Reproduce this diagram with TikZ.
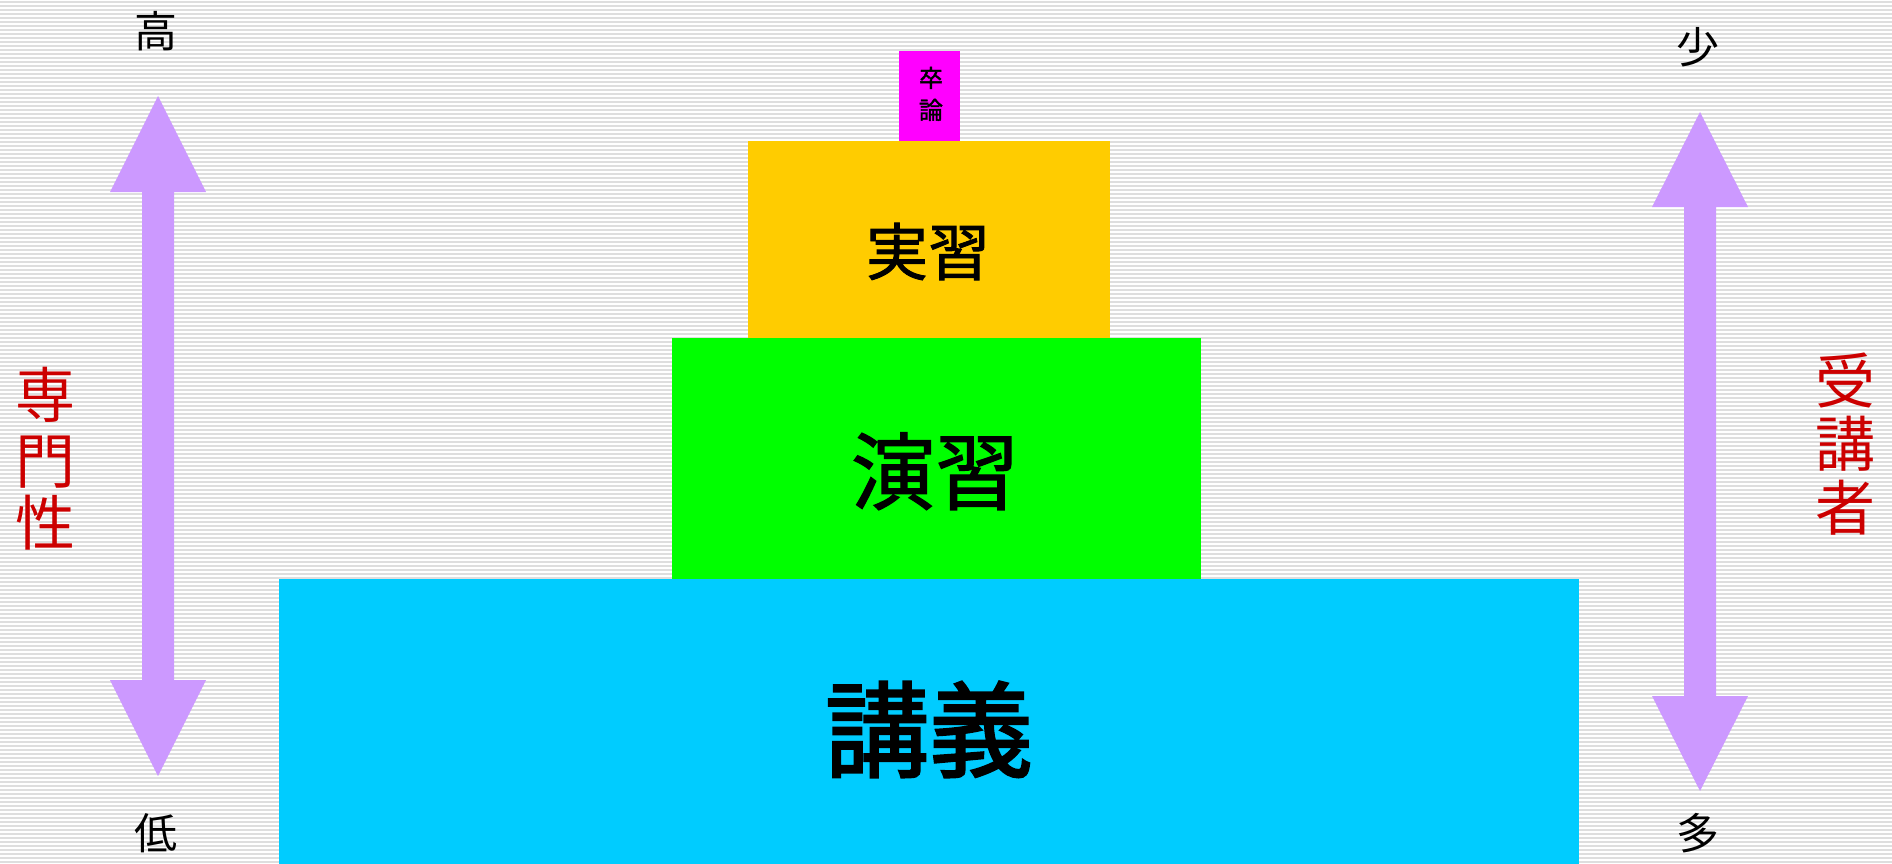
\documentclass[tikz,border=0pt]{standalone}
\usepackage{fontspec}
\newfontfamily\jp[FakeBold=1.5]{Noto Sans CJK JP}
\newfontfamily\jpr{Noto Sans CJK JP}
\newfontfamily\jpb[FakeBold=2.3]{Noto Sans CJK JP}
\definecolor{bgline}{HTML}{DEDEDE}
\definecolor{arrowc}{HTML}{CC99FF}
\definecolor{lecture}{HTML}{00CCFF}
\definecolor{exercise}{HTML}{00FF00}
\definecolor{practice}{HTML}{FFCC00}
\definecolor{thesis}{HTML}{FF00FF}
\definecolor{redtxt}{HTML}{CC0000}
\begin{document}
\begin{tikzpicture}[x=1pt,y=-1pt,
  lbl/.style={inner sep=0pt,anchor=base,font=\jp},
  sidelbl/.style={inner sep=0pt,anchor=base,text=redtxt,font=\jpr\fontsize{60}{60}\selectfont},
  endlbl/.style={inner sep=0pt,anchor=base,font=\jpr\fontsize{43}{43}\selectfont},
  bigarrow/.style={fill=arrowc,draw=none}]
\useasboundingbox (0,0) rectangle (1892,864);
\fill[white] (0,0) rectangle (1892,864);
\foreach \y in {2,6,...,864} \draw[bgline,line width=1.5pt] (0,\y) -- (1892,\y);
% blocks
\fill[lecture] (279,579) rectangle (1579,864);
\fill[exercise] (672,338) rectangle (1201,579);
\fill[practice] (748,141) rectangle (1110,338);
\fill[thesis] (899,51) rectangle (960,141);
\node[lbl,font=\jpb\fontsize{104}{104}\selectfont] (tlec) at (929,769) {講義};
\node[lbl,font=\jp\fontsize{84}{84}\selectfont] (tex) at (935,503) {演習};
\node[lbl,font=\jp\fontsize{62}{62}\selectfont] (tpr) at (928,275) {実習};
\node[lbl,font=\jp\fontsize{24}{24}\selectfont] (t1) at (931,87) {卒};
\node[lbl,font=\jp\fontsize{24}{24}\selectfont] (t2) at (931,119) {論};
% left arrow
\fill[bigarrow] (158,96) -- (206,192) -- (174,192) -- (174,680) -- (206,680) -- (158,776) -- (110,680) -- (142,680) -- (142,192) -- (110,192) -- cycle;
% right arrow
\fill[bigarrow] (1700,112) -- (1748,207) -- (1716,207) -- (1716,696) -- (1748,696) -- (1700,791) -- (1652,696) -- (1684,696) -- (1684,207) -- (1652,207) -- cycle;
% end labels
\node[endlbl] (hi) at (156,48) {高};
\node[endlbl] (lo) at (156,849) {低};
\node[endlbl] (few) at (1698,64) {少};
\node[endlbl] (many) at (1698,849) {多};
% side labels
\node[sidelbl] (s1) at (45,417) {専};
\node[sidelbl] (s2) at (45,483) {門};
\node[sidelbl] (s3) at (45,545) {性};
\node[sidelbl] (r1) at (1845,403) {受};
\node[sidelbl] (r2) at (1845,466) {講};
\node[sidelbl] (r3) at (1845,530) {者};
\end{tikzpicture}
\end{document}
